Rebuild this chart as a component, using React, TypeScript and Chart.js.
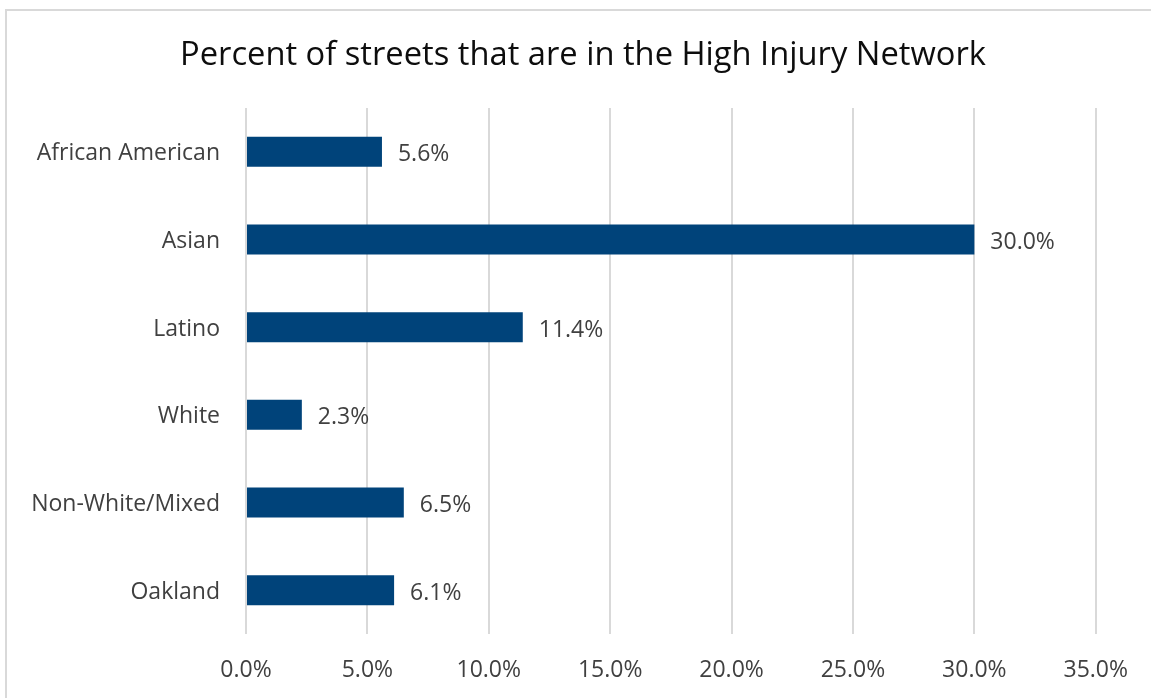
import React, { useEffect, useRef } from "react";
import { Chart, registerables } from "chart.js";

Chart.register(...registerables);

const categories = ["African American", "Asian", "Latino", "White", "Non-White/Mixed", "Oakland"];
const percentValues = [5.6, 30.0, 11.4, 2.3, 6.5, 6.1];
const xTickValues = [0, 5, 10, 15, 20, 25, 30, 35];
const chartTitle = "Percent of streets that are in the High Injury Network";

const FONT = "'Open Sans', 'DejaVu Sans', sans-serif";
const BAR_COLOR = "#00437a";
const TEXT_COLOR = "#404040";
const GRID_COLOR = "#d9d9d9";
const LABEL_SIZE = 23;

const dataLabelPlugin = {
  id: "dataLabels",
  afterDatasetsDraw(chart: any) {
    const ctx = chart.ctx;
    const meta = chart.getDatasetMeta(0);
    const values = chart.data.datasets[0].data as number[];
    ctx.save();
    ctx.font = `${LABEL_SIZE}px ${FONT}`;
    ctx.fillStyle = TEXT_COLOR;
    ctx.textAlign = "left";
    ctx.textBaseline = "middle";
    meta.data.forEach((el: any, i: number) => {
      ctx.fillText(values[i].toFixed(1) + "%", el.x + 16, el.y + 3);
    });
    ctx.restore();
  },
};

const titlePlugin = {
  id: "centeredTitle",
  afterDraw(chart: any) {
    const ctx = chart.ctx;
    ctx.save();
    ctx.font = `32.7px ${FONT}`;
    ctx.fillStyle = "#0d0d0d";
    ctx.textAlign = "center";
    ctx.textBaseline = "alphabetic";
    ctx.fillText(chartTitle, 583, 65);
    ctx.restore();
  },
};

export default function App() {
  const canvasRef = useRef<HTMLCanvasElement | null>(null);

  useEffect(() => {
    if (!canvasRef.current) return;
    const chart = new Chart(canvasRef.current, {
      type: "bar",
      data: {
        labels: categories,
        datasets: [
          {
            data: percentValues,
            backgroundColor: BAR_COLOR,
            borderWidth: 0,
            barPercentage: 0.342,
            categoryPercentage: 1,
          },
        ],
      },
      options: {
        indexAxis: "y",
        responsive: false,
        animation: false,
        layout: { padding: { left: 0, right: 54, top: 108, bottom: 0 } },
        plugins: {
          legend: { display: false },
          tooltip: { enabled: false },
          title: { display: false },
        },
        scales: {
          x: {
            type: "linear",
            min: 0,
            max: 35,
            afterBuildTicks(scale: any) {
              scale.ticks = xTickValues.map((v) => ({ value: v }));
            },
            afterFit(scale: any) {
              scale.height = 64;
            },
            grid: { color: GRID_COLOR, lineWidth: 2, drawTicks: false },
            border: { display: false },
            ticks: {
              padding: 23,
              color: TEXT_COLOR,
              font: { family: FONT, size: LABEL_SIZE },
              callback: (v: any) => Number(v).toFixed(1) + "%",
            },
          },
          y: {
            afterFit(scale: any) {
              scale.width = 246;
            },
            grid: { display: false, drawTicks: false },
            border: { display: false },
            ticks: {
              padding: 26,
              labelOffset: 2,
              color: TEXT_COLOR,
              font: { family: FONT, size: LABEL_SIZE },
            },
          },
        },
      },
      plugins: [dataLabelPlugin, titlePlugin],
    });
    return () => chart.destroy();
  }, []);

  return (
    <div style={{ position: "absolute", left: 0, top: 0, width: 1151, height: 698, background: "#fff", overflow: "hidden" }}>
      <div
        style={{
          position: "absolute",
          left: 5,
          top: 9,
          width: 1200,
          height: 800,
          borderTop: `2px solid ${GRID_COLOR}`,
          borderLeft: `2px solid ${GRID_COLOR}`,
        }}
      />
      <canvas
        ref={canvasRef}
        width={1151}
        height={698}
        style={{ position: "absolute", left: 0, top: 0, display: "block" }}
      />
    </div>
  );
}
